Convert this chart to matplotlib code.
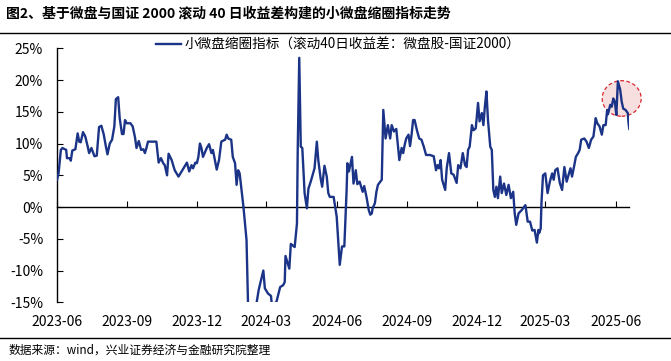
import pandas as pd
import matplotlib
matplotlib.use("Agg")
import matplotlib.pyplot as plt
import matplotlib.dates as mdates
from matplotlib.patches import Ellipse
from matplotlib.lines import Line2D

plt.rcParams['font.family'] = ['Noto Sans CJK SC', 'DejaVu Sans']

# data (days since 2023-06-01, value in %)
start = "2023-06-01"
days = [0, 2, 5, 7, 12, 13, 17, 18, 20, 24, 27, 29, 31, 34, 37, 40, 42, 45, 49, 52,
        55, 58, 61, 64, 66, 69, 72, 75, 77, 80, 82, 85, 87, 89, 91, 96, 99, 102, 104, 107,
        110, 113, 115, 117, 119, 130, 133, 136, 139, 141, 144, 146, 150, 154, 159, 163, 167, 170, 173, 176,
        178, 181, 183, 185, 187, 189, 191, 196, 199, 202, 204, 209, 212, 215, 218, 220, 222, 224, 228, 230,
        233, 235, 237, 239, 244, 248, 250, 253, 257, 261, 264, 268, 270, 272, 276, 280, 281, 285, 287, 292,
        296, 298, 299, 304, 306, 311, 314, 315, 317, 319, 321, 324, 327, 329, 332, 337, 340, 342, 345, 347,
        350, 353, 355, 357, 362, 364, 366, 368, 370, 373, 376, 379, 380, 382, 386, 388, 391, 393, 396, 400,
        402, 405, 408, 410, 412, 413, 416, 418, 420, 425, 427, 430, 433, 436, 438, 441, 444, 448, 451, 453,
        455, 457, 460, 462, 464, 466, 468, 471, 474, 477, 480, 483, 488, 493, 496, 498, 500, 502, 504, 508,
        510, 513, 516, 519, 523, 525, 528, 531, 534, 536, 538, 540, 543, 545, 548, 551, 553, 556, 558, 560,
        562, 564, 567, 569, 571, 573, 575, 577, 580, 582, 585, 588, 591, 594, 597, 599, 601, 604, 608, 613,
        616, 619, 622, 625, 628, 630, 631, 633, 634, 636, 639, 642, 645, 648, 650, 652, 655, 658, 661, 664,
        667, 670, 672, 674, 677, 679, 682, 684, 686, 690, 693, 696, 699, 702, 705, 707, 710, 713, 715, 718,
        720, 721, 724, 726, 728, 730, 732, 734, 737, 739, 741, 744, 747, 748, 749]
values = [4.3, 5.3, 9.0, 9.3, 9.0, 7.7, 7.7, 7.3, 8.9, 9.1, 11.6, 10.3, 10.2, 11.8, 11.1, 9.6, 8.5, 9.3, 8.0, 8.1,
          12.6, 12.8, 11.5, 9.5, 8.3, 10.0, 10.6, 12.7, 17.0, 17.3, 14.0, 11.5, 11.5, 13.7, 13.2, 13.2, 12.7, 11.0, 9.3, 10.4,
          9.0, 9.1, 8.5, 9.3, 10.3, 10.3, 7.0, 7.7, 6.9, 6.6, 5.0, 8.4, 7.4, 5.8, 4.8, 5.6, 6.4, 7.0, 5.6, 6.6,
          6.1, 7.0, 6.9, 7.9, 10.0, 9.3, 7.9, 9.3, 9.9, 8.5, 9.0, 5.9, 7.4, 10.3, 10.5, 10.6, 11.4, 10.8, 10.6, 7.9,
          6.9, 3.5, 5.8, 5.3, 0.0, -5.2, -15.5, -22.0, -20.0, -15.2, -13.0, -11.0, -10.0, -12.8, -13.6, -14.0, -15.2, -15.1, -15.0, -12.6,
          -12.3, -11.8, -7.7, -9.7, -5.8, -6.3, -2.6, 9.0, 23.5, 9.5, 9.3, 2.2, -0.2, 2.9, 4.0, 6.1, 10.3, 7.3, 4.5, 3.2,
          6.5, 4.8, 2.2, 1.6, 1.6, 0.0, -1.5, -5.2, -9.1, -6.2, -6.2, 2.7, 6.9, 5.6, 7.9, 3.7, 5.8, 3.6, 4.0, 2.4,
          3.3, 1.6, -0.5, -1.2, -1.0, -0.2, 0.6, 2.4, 3.5, 4.3, 15.3, 10.8, 12.9, 10.8, 12.9, 11.9, 12.3, 7.4, 9.3, 8.5,
          9.8, 10.8, 11.4, 9.6, 11.4, 13.7, 13.7, 12.1, 10.8, 10.6, 9.5, 8.2, 8.2, 8.0, 5.8, 6.6, 6.1, 7.4, 4.3, 2.7,
          6.1, 8.5, 5.3, 5.1, 3.8, 6.6, 6.1, 8.5, 6.6, 6.3, 9.0, 9.5, 12.9, 12.1, 12.4, 16.4, 13.5, 14.8, 12.9, 15.9,
          18.2, 13.7, 9.5, 9.0, 2.7, 1.6, 3.2, 1.4, 4.8, 2.2, 3.7, 1.9, 3.5, 1.4, 2.4, -1.0, -2.8, -1.0, -0.5, 0.3,
          -2.3, -2.3, -3.7, -3.6, -5.6, -3.6, -4.1, -3.4, 0.6, 5.0, 5.3, 2.2, 4.0, 5.3, 4.3, 5.8, 6.1, 3.8, 2.7, 6.3,
          4.0, 5.3, 6.1, 4.8, 6.6, 7.9, 8.5, 9.0, 10.6, 10.8, 10.3, 9.3, 10.6, 11.1, 14.0, 13.2, 12.7, 11.4, 12.9, 12.9,
          15.3, 14.6, 16.1, 15.8, 17.1, 16.6, 14.5, 19.8, 18.5, 16.6, 15.5, 15.3, 14.8, 13.2, 12.3]
yticks = [-15, -10, -5, 0, 5, 10, 15, 20, 25]

# highlighted area around the latest peak
mark_day = 739
mark_val = 17.1
mark_w_days = 51
mark_h_val = 5.6

title = "图2、基于微盘与国证 2000 滚动 40 日收益差构建的小微盘缩圈指标走势"
label = "小微盘缩圈指标（滚动40日收益差：微盘股-国证2000）"
source = "数据来源：wind，兴业证券经济与金融研究院整理"

df = pd.DataFrame({"date": pd.Timestamp(start) + pd.to_timedelta(days, unit="D"), "value": values})
ticks = pd.date_range(start, "2025-06-01", freq="3MS")
color = "#1B3487"

fig = plt.figure(figsize=(6.71, 3.61), dpi=100)
ax = fig.add_axes([0.085, 0.1626, 0.8529, 0.7036])

ax.plot(df["date"], df["value"], color=color, lw=1.7, zorder=3)

center = mdates.date2num(pd.Timestamp(start) + pd.Timedelta(days=mark_day))
ax.add_patch(Ellipse((center, mark_val), mark_w_days, mark_h_val, facecolor="#F7DFE0",
                     edgecolor="#D9262C", lw=0.9, ls=(0, (3, 2)), zorder=2, clip_on=False))

ax.set_ylim(-15, 25)
ax.set_yticks(yticks)
ax.set_yticklabels([f"{t}%" for t in yticks])
ax.set_xlim(df["date"].iloc[0], df["date"].iloc[-1])
ax.set_xticks(ticks)

for s in ["top", "right"]:
    ax.spines[s].set_visible(False)
ax.spines["left"].set_linewidth(1.0)
ax.spines["bottom"].set_position(("data", 0))
ax.spines["bottom"].set_linewidth(1.0)
ax.tick_params(axis="y", direction="in", length=4, pad=10, labelsize=10, colors="black")
ax.tick_params(axis="x", direction="in", length=4, labelbottom=False)

# date labels sit under the plot, not at the zero line
sec = ax.secondary_xaxis(0)
sec.set_xticks(ticks)
sec.xaxis.set_major_formatter(mdates.DateFormatter("%Y-%m"))
sec.tick_params(length=0, pad=9, labelsize=10)
sec.spines["bottom"].set_visible(False)

handle = Line2D([], [], color=color, lw=1.7)
fig.legend([handle], [label], loc="center left", bbox_to_anchor=(0.233, 0.875), frameon=False,
           fontsize=9.8, handlelength=1.8, handletextpad=0.3, borderpad=0, borderaxespad=0)

fig.text(0.009, 0.963, title, fontsize=10, fontweight="bold", va="center", ha="left")
fig.add_artist(Line2D([0, 1], [1 - 33 / 361, 1 - 33 / 361], color="black", lw=1.0))
fig.add_artist(Line2D([0, 1], [1 - 338 / 361, 1 - 338 / 361], color="black", lw=1.0))
fig.text(0.012, 1 - 350 / 361, source, fontsize=8.5, va="center", ha="left")

fig.savefig("out.png", dpi=100)
